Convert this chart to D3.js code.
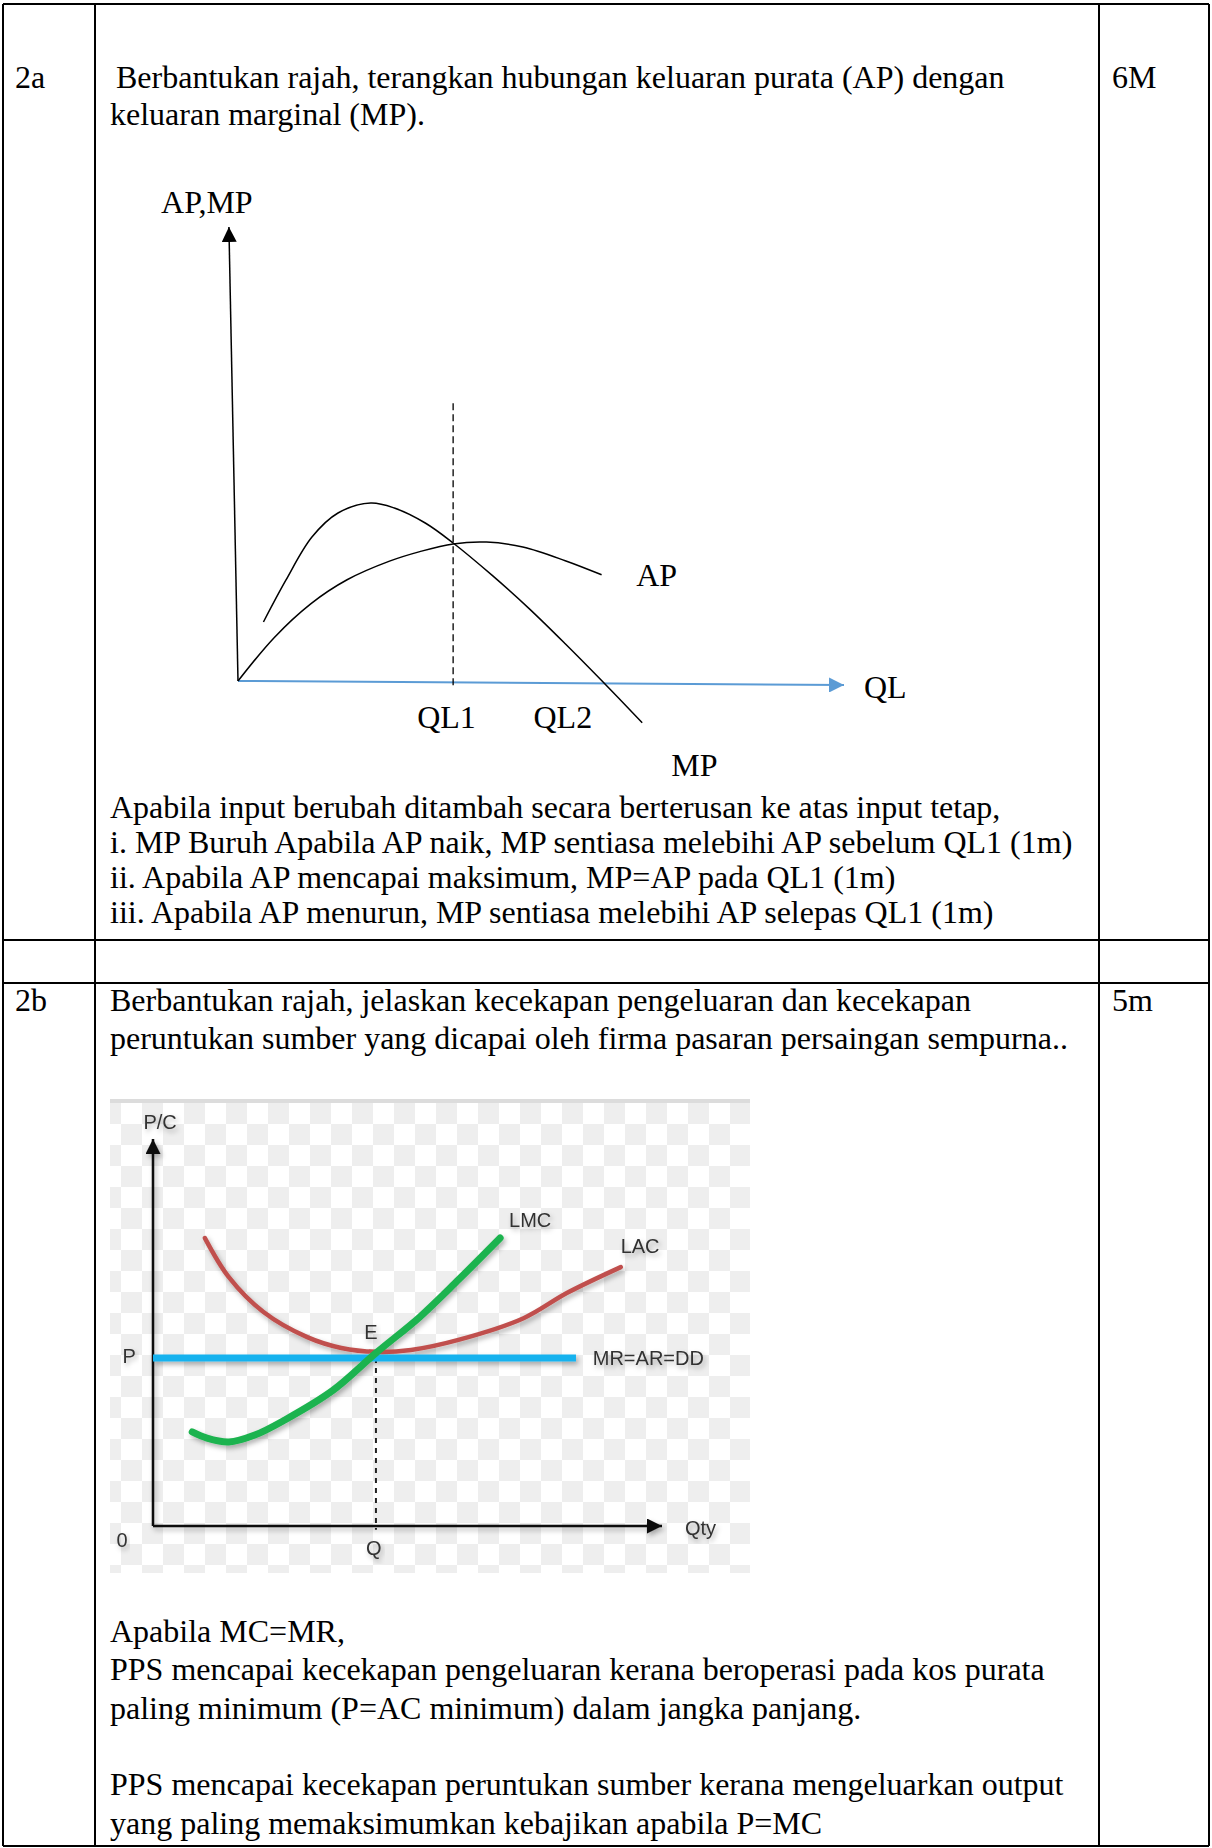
<!DOCTYPE html>
<html>
<head>
<meta charset="utf-8">
<script src="https://cdn.jsdelivr.net/npm/d3@7"></script>
<style>
body { margin: 0; background: #fff; }
svg text { font-family: "Liberation Serif", "Times New Roman", serif; }
</style>
</head>
<body>
<script>
var W = 1212, H = 1848;

// table text
var q2aNum = "2a", q2aMark = "6M";
var q2aText = ["Berbantukan rajah, terangkan hubungan keluaran purata (AP) dengan",
               "keluaran marginal (MP)."];
var q2aNotes = ["Apabila input berubah ditambah secara berterusan ke atas input tetap,",
                "i. MP Buruh Apabila AP naik, MP sentiasa melebihi AP sebelum QL1 (1m)",
                "ii. Apabila AP mencapai maksimum, MP=AP pada QL1 (1m)",
                "iii. Apabila AP menurun, MP sentiasa melebihi AP selepas QL1 (1m)"];
var q2bNum = "2b", q2bMark = "5m";
var q2bText = ["Berbantukan rajah, jelaskan kecekapan pengeluaran dan kecekapan",
               "peruntukan sumber yang dicapai oleh firma pasaran persaingan sempurna.."];
var q2bNotes = ["Apabila MC=MR,",
                "PPS mencapai kecekapan pengeluaran kerana beroperasi pada kos purata",
                "paling minimum (P=AC minimum) dalam jangka panjang.",
                "",
                "PPS mencapai kecekapan peruntukan sumber kerana mengeluarkan output",
                "yang paling memaksimumkan kebajikan apabila P=MC"];

// diagram 1 : AP and MP against labour
var apX = [0, 6, 12, 18, 25, 30, 35.5, 41, 47, 54, 60];
var apY = [0, 9.6, 17, 22.3, 26.4, 28.5, 30.2, 30.6, 29.5, 26.5, 23.4];
var mpX = [4.2, 7.9, 12.2, 16.5, 21.9, 25.8, 30.9, 35.5, 42, 48, 54, 60, 66.7];
var mpY = [13, 22.2, 31.7, 37, 39.2, 38.1, 34.8, 30.4, 23.2, 16, 8.2, 0.1, -9.2];
var ql1 = 35.5;
var qlTicks = ["QL1", "QL2"];
var qlTickX = [34.4, 53.6];

// diagram 2 : long run perfect competition
var lacX = [10.2, 14.9, 21.7, 30.3, 37.0, 43.8, 50.7, 60.0, 72.8, 81.3, 91.9];
var lacY = [74.4, 64.3, 55.3, 48.8, 46.0, 45.0, 45.5, 48.1, 53.7, 60.2, 66.9];
var lmcX = [7.7, 10.6, 14.9, 20.0, 25.9, 35.4, 43.8, 52.4, 60.0, 68.2];
var lmcY = [24.3, 22.7, 21.7, 23.5, 27.4, 35.1, 44.7, 54.0, 63.6, 74.4];
var priceP = 43.4, qtyQ = 43.8, mrEnd = 83.1;

var svg = d3.select("body").append("svg")
  .attr("width", W)
  .attr("height", H)
  .style("display", "block");

var defs = svg.append("defs");

function arrow(id, color) {
  defs.append("marker")
    .attr("id", id)
    .attr("viewBox", "0 0 10 10")
    .attr("refX", 10).attr("refY", 5)
    .attr("markerUnits", "userSpaceOnUse")
    .attr("markerWidth", 15).attr("markerHeight", 15)
    .attr("orient", "auto")
    .append("path")
    .attr("d", "M0,0L10,5L0,10z")
    .attr("fill", color);
}
arrow("arrBlack", "#000");
arrow("arrBlue", "#5b9bd5");
arrow("arrBlack2", "#111");

var shadow = defs.append("filter").attr("id", "shadow")
  .attr("x", "-20%").attr("y", "-20%").attr("width", "140%").attr("height", "140%");
shadow.append("feDropShadow")
  .attr("dx", 2).attr("dy", 3).attr("stdDeviation", 2.5)
  .attr("flood-color", "#000").attr("flood-opacity", 0.3);

var soft = defs.append("filter").attr("id", "soft");
soft.append("feGaussianBlur").attr("stdDeviation", 0.6);

var checker = defs.append("pattern").attr("id", "checker")
  .attr("patternUnits", "userSpaceOnUse")
  .attr("x", 100).attr("y", 1103)
  .attr("width", 42).attr("height", 42);
checker.append("rect").attr("width", 42).attr("height", 42).attr("fill", "#fff");
checker.append("rect").attr("width", 21).attr("height", 21).attr("fill", "#eeeeee");
checker.append("rect").attr("x", 21).attr("y", 21).attr("width", 21).attr("height", 21).attr("fill", "#eeeeee");

// ---------- table ----------
var colX = [3, 95, 1099, 1209];
var rowY = [4, 940, 983, 1846];

svg.selectAll("line.col")
  .data(colX)
  .enter().append("line")
  .attr("x1", function(d) { return d; })
  .attr("x2", function(d) { return d; })
  .attr("y1", rowY[0]).attr("y2", rowY[3])
  .attr("stroke", "#000").attr("stroke-width", 2);

svg.selectAll("line.row")
  .data(rowY)
  .enter().append("line")
  .attr("x1", colX[0]).attr("x2", colX[3])
  .attr("y1", function(d) { return d; })
  .attr("y2", function(d) { return d; })
  .attr("stroke", "#000").attr("stroke-width", 2);

function lines(arr, x, y0, step) {
  svg.append("g").selectAll("text")
    .data(arr)
    .enter().append("text")
    .attr("x", x)
    .attr("y", function(d, i) { return y0 + i * step; })
    .attr("font-size", 32)
    .text(function(d) { return d; });
}

lines([q2aNum], 15, 88, 0);
lines([q2aMark], 1112, 88, 0);
lines([q2aText[0]], 116, 88, 0);
lines([q2aText[1]], 110, 125, 0);
lines(q2aNotes, 110, 818, 35);

lines([q2bNum], 15, 1011, 0);
lines([q2bMark], 1112, 1011, 0);
lines(q2bText, 110, 1011, 38);
lines(q2bNotes, 110, 1642, 38.3);

// ---------- diagram 1 ----------
var x1 = d3.scaleLinear().domain([0, 100]).range([238, 844]);
var y1 = d3.scaleLinear().domain([0, 100]).range([681, 227]);

var g1 = svg.append("g");
var curve1 = d3.line()
  .x(function(d) { return x1(d[0]); })
  .y(function(d) { return y1(d[1]); })
  .curve(d3.curveCatmullRom.alpha(0.5));

// y axis (hand drawn, slightly slanted)
g1.append("line")
  .attr("x1", x1(0)).attr("y1", y1(0))
  .attr("x2", x1(-1.5)).attr("y2", y1(100))
  .attr("stroke", "#000").attr("stroke-width", 1.5)
  .attr("marker-end", "url(#arrBlack)");

// x axis
g1.append("line")
  .attr("x1", x1(0)).attr("y1", y1(0))
  .attr("x2", x1(100)).attr("y2", y1(-0.9))
  .attr("stroke", "#5b9bd5").attr("stroke-width", 2)
  .attr("marker-end", "url(#arrBlue)");

g1.append("line")
  .attr("x1", x1(ql1)).attr("x2", x1(ql1))
  .attr("y1", y1(61.2)).attr("y2", y1(-1.8))
  .attr("stroke", "#000").attr("stroke-width", 1.3)
  .attr("stroke-dasharray", "7,4");

g1.append("path")
  .datum(d3.zip(apX, apY))
  .attr("d", curve1)
  .attr("fill", "none").attr("stroke", "#000").attr("stroke-width", 1.5);

g1.append("path")
  .datum(d3.zip(mpX, mpY))
  .attr("d", curve1)
  .attr("fill", "none").attr("stroke", "#000").attr("stroke-width", 1.5);

g1.selectAll("text.tick")
  .data(qlTicks)
  .enter().append("text")
  .attr("x", function(d, i) { return x1(qlTickX[i]); })
  .attr("y", y1(-10.4))
  .attr("text-anchor", "middle")
  .attr("font-size", 32)
  .text(function(d) { return d; });

var labels1 = [["AP,MP", -12.7, 103], ["AP", 65.7, 20.9], ["MP", 71.5, -21], ["QL", 103.3, -3.7]];
g1.selectAll("text.lab")
  .data(labels1)
  .enter().append("text")
  .attr("x", function(d) { return x1(d[1]); })
  .attr("y", function(d) { return y1(d[2]); })
  .attr("font-size", 32)
  .text(function(d) { return d[0]; });

// ---------- diagram 2 ----------
var x2 = d3.scaleLinear().domain([0, 100]).range([153, 662]);
var y2 = d3.scaleLinear().domain([0, 100]).range([1526, 1139]);

var g2 = svg.append("g");
g2.append("rect")
  .attr("x", 110).attr("y", 1100)
  .attr("width", 640).attr("height", 473)
  .attr("fill", "url(#checker)");
g2.append("rect")
  .attr("x", 110).attr("y", 1099)
  .attr("width", 640).attr("height", 4)
  .attr("fill", "#dcdcdc");

var marks = g2.append("g").attr("filter", "url(#soft)");
var curve2 = d3.line()
  .x(function(d) { return x2(d[0]); })
  .y(function(d) { return y2(d[1]); })
  .curve(d3.curveCatmullRom.alpha(0.5));

var axes2 = marks.append("g").attr("filter", "url(#shadow)");
axes2.append("line")
  .attr("x1", x2(0)).attr("y1", y2(0))
  .attr("x2", x2(0)).attr("y2", y2(100))
  .attr("stroke", "#111").attr("stroke-width", 2.5)
  .attr("marker-end", "url(#arrBlack2)");
axes2.append("line")
  .attr("x1", x2(0)).attr("y1", y2(0))
  .attr("x2", x2(100)).attr("y2", y2(0))
  .attr("stroke", "#111").attr("stroke-width", 2.5)
  .attr("marker-end", "url(#arrBlack2)");

marks.append("line")
  .attr("x1", x2(qtyQ)).attr("x2", x2(qtyQ))
  .attr("y1", y2(priceP)).attr("y2", y2(-1))
  .attr("stroke", "#222").attr("stroke-width", 2)
  .attr("stroke-dasharray", "5,5");

var curves2 = marks.append("g").attr("filter", "url(#shadow)");
curves2.append("line")
  .attr("x1", x2(0)).attr("x2", x2(mrEnd))
  .attr("y1", y2(priceP)).attr("y2", y2(priceP))
  .attr("stroke", "#14b2ee").attr("stroke-width", 7);
curves2.append("path")
  .datum(d3.zip(lacX, lacY))
  .attr("d", curve2)
  .attr("fill", "none").attr("stroke", "#c0504d").attr("stroke-width", 4.5)
  .attr("stroke-linecap", "round");
curves2.append("path")
  .datum(d3.zip(lmcX, lmcY))
  .attr("d", curve2)
  .attr("fill", "none").attr("stroke", "#1db34f").attr("stroke-width", 7)
  .attr("stroke-linecap", "round");

var labels2 = [["P/C", 1.4, 102.6, "middle"], ["LMC", 74.1, 77.3, "middle"], ["LAC", 95.7, 70.5, "middle"],
               ["E", 42.8, 48.3, "middle"], ["P", -4.7, 42.1, "middle"], ["MR=AR=DD", 86.4, 41.6, "start"],
               ["Qty", 104.5, -2.3, "start"], ["0", -6.1, -5.4, "middle"], ["Q", 43.4, -7.5, "middle"]];
marks.selectAll("text.lab")
  .data(labels2)
  .enter().append("text")
  .attr("x", function(d) { return x2(d[1]); })
  .attr("y", function(d) { return y2(d[2]); })
  .attr("text-anchor", function(d) { return d[3]; })
  .attr("font-size", 20)
  .attr("fill", "#333")
  .attr("filter", "url(#shadow)")
  .style("font-family", "'Liberation Sans Narrow', 'Liberation Sans', sans-serif")
  .text(function(d) { return d[0]; });
</script>
</body>
</html>
